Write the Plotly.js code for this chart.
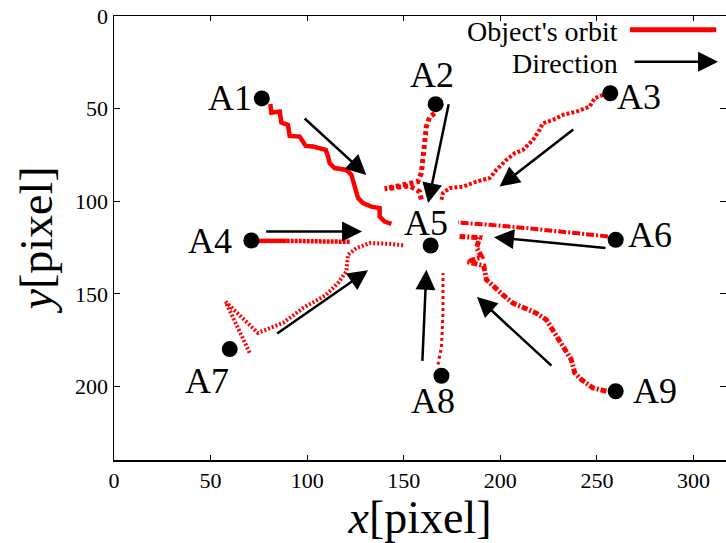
<!DOCTYPE html>
<html><head><meta charset="utf-8">
<script src="https://cdn.plot.ly/plotly-3.0.1.min.js"></script>
<style>body{margin:0;padding:0;background:#fff}#chart{width:726px;height:543px}</style>
</head><body><div id="chart"></div>
<script>
// Object start points
const pointNames = ['A1','A2','A3','A4','A5','A6','A7','A8','A9'];
const pointX = [76.5, 166.5, 256.9, 71.1, 163.9, 259.7, 59.9, 169.5, 259.7];
const pointY = [44.5, 47.6, 41.7, 121.2, 123.9, 120.8, 179.8, 194.2, 202.6];
// Label positions
const labelX = [59.9, 164.5, 272.0, 49.5, 161.7, 277.3, 48.0, 165.0, 279.9];
const labelY = [44.2, 31.8, 43.7, 121.7, 111.8, 118.1, 196.9, 208.0, 202.6];

// Orbits
const orbit1X = [80.95, 81.47, 85.77, 86.65, 90.06, 90.94, 96.12, 99.22, 103.0, 109.6, 110.8, 111.6, 114.2, 120.3, 122.9, 124.6, 126.3, 128.9, 133.2, 137.5, 137.5, 140.1, 143.6];
const orbit1Y = [47.46, 52.17, 51.62, 57.55, 58.79, 64.72, 65.1, 70.12, 70.5, 72.3, 75.9, 79.4, 82.1, 83.1, 85.8, 92.1, 98.2, 101.0, 102.9, 103.7, 108.3, 111.0, 112.2];
const orbit2X = [166.0, 163.4, 161.7, 160.8, 159.9, 159.1, 157.2, 147.9, 140.1, 153.1, 158.2, 159.3];
const orbit2Y = [52.5, 54.5, 59.7, 68.7, 79.4, 84.8, 89.5, 91.7, 93.3, 91.7, 94.9, 100.3];
const orbit3X = [253.1, 248.8, 246.2, 239.3, 232.4, 227.2, 222.0, 220.3, 216.9, 211.7, 207.4, 203.1, 197.9, 194.5, 187.6, 180.6, 173.8, 170.3, 169.5];
const orbit3Y = [42.6, 44.4, 48.9, 51.6, 53.4, 56.1, 57.9, 61.5, 66.9, 72.3, 74.1, 77.7, 83.1, 87.5, 89.4, 92.1, 92.9, 95.6, 99.2];
const orbit4aX = [73.5, 89.4];
const orbit4aY = [121.4, 121.4];
const orbit4bX = [89.4, 116.8, 122.0];
const orbit4bY = [121.4, 121.6, 121.9];
const orbit6X = [255.7, 225.5, 213.5, 194.5, 178.1];
const orbit6Y = [119.0, 115.4, 114.5, 112.7, 111.5];
const orbit7X = [70.2, 57.8, 74.5, 87.5, 97.8, 109.9, 115.9, 120.3, 121.1, 125.5, 132.3, 142.7, 150.5];
const orbit7Y = [181.8, 154.3, 171.1, 165.7, 157.7, 150.5, 144.2, 137.9, 128.9, 125.3, 122.6, 123.0, 123.9];
const orbit8X = [167.7, 169.5, 170.3, 170.3];
const orbit8Y = [188.2, 178.4, 160.4, 138.8];
const orbit9X = [254.9, 247.9, 241.9, 238.5, 236.7, 232.4, 229.0, 226.4, 223.8, 218.6, 211.7, 206.5, 201.3, 196.2, 192.8, 191.4, 183.1, 190.3, 187.7, 189.3, 178.9];
const orbit9Y = [202.6, 200.8, 196.3, 192.7, 185.5, 178.4, 173.0, 167.6, 164.0, 160.4, 157.7, 155.0, 150.5, 146.0, 142.4, 134.8, 132.7, 130.0, 125.1, 119.7, 119.0];

// Direction arrows (tail -> tip)
const arrowTailX = [97.9, 173.4, 238.5, 78.0, 255.2, 83.7, 159.6, 227.2];
const arrowTailY = [54.6, 46.8, 60.6, 116.3, 125.3, 172.0, 187.0, 189.5];
const arrowTipX = [130.6, 162.6, 199.6, 128.4, 196.7, 131.5, 161.7, 187.9];
const arrowTipY = [85.8, 101.0, 92.1, 116.3, 119.4, 137.3, 137.0, 151.7];

const legendLabels = ["Object's orbit", "Direction"];

const FONT = '"Liberation Serif", "Times New Roman", Times, serif';
const RED = '#ff0000';

function orbit(x, y, dash, width) {
  return {x: x, y: y, type: 'scatter', mode: 'lines', showlegend: false,
    line: {color: RED, width: width, dash: dash}, hoverinfo: 'skip'};
}

const traces = [
  orbit(orbit1X, orbit1Y, 'solid', 4.5),
  orbit(orbit2X, orbit2Y, '4px,3px', 5),
  orbit(orbit3X, orbit3Y, '3px,2px', 4),
  orbit(orbit4aX, orbit4aY, 'solid', 4.5),
  orbit(orbit4bX, orbit4bY, '3px,1px', 4.5),
  orbit(orbit6X, orbit6Y, '8px,2px,2px,2px', 4),
  orbit(orbit7X, orbit7Y, '2px,2px', 4),
  orbit(orbit8X, orbit8Y, '3px,3px', 3),
  orbit(orbit9X, orbit9Y, '6px,2px,2px,2px', 5),
  {x: pointX, y: pointY, type: 'scatter', mode: 'markers', showlegend: false,
   marker: {color: '#000', size: 16}, hoverinfo: 'skip'}
];

const annotations = [];
pointNames.forEach((n, i) => {
  annotations.push({x: labelX[i], y: labelY[i], xref: 'x', yref: 'y', text: n,
    showarrow: false, font: {family: FONT, size: 36, color: '#000'}});
});
arrowTipX.forEach((tx, i) => {
  annotations.push({x: tx, y: arrowTipY[i], ax: arrowTailX[i], ay: arrowTailY[i],
    xref: 'x', yref: 'y', axref: 'x', ayref: 'y', text: '', showarrow: true,
    arrowhead: 2, arrowsize: 1.6, arrowwidth: 2.5, arrowcolor: '#000'});
});
// legend
annotations.push({x: 0.827, y: 0.966, xref: 'paper', yref: 'paper', xanchor: 'right', yanchor: 'middle',
  text: legendLabels[0], showarrow: false, font: {family: FONT, size: 28, color: '#000'}});
annotations.push({x: 0.827, y: 0.894, xref: 'paper', yref: 'paper', xanchor: 'right', yanchor: 'middle',
  text: legendLabels[1], showarrow: false, font: {family: FONT, size: 28, color: '#000'}});
annotations.push({x: 0.987, y: 0.897, xref: 'paper', yref: 'paper', ax: -85, ay: 0,
  text: '', showarrow: true, arrowhead: 2, arrowsize: 1.6, arrowwidth: 2.5, arrowcolor: '#000'});

const layout = {
  width: 726, height: 543,
  margin: {l: 114, r: 0, t: 16, b: 83},
  paper_bgcolor: '#fff', plot_bgcolor: '#fff',
  font: {family: FONT, color: '#000'},
  xaxis: {range: [0, 316.8], tickvals: [0, 50, 100, 150, 200, 250, 300],
    ticks: 'inside', ticklen: 5, tickwidth: 1, tickcolor: '#000', mirror: 'ticks',
    showline: true, linecolor: '#000', linewidth: 1.5, showgrid: false, zeroline: false,
    tickfont: {family: FONT, size: 22, color: '#000'},
    title: {text: '<i>x</i>[pixel]', font: {family: FONT, size: 46, color: '#000'}, standoff: 4}},
  yaxis: {range: [239.7, 0], tickvals: [0, 50, 100, 150, 200],
    ticks: 'inside', ticklen: 6, tickwidth: 1, tickcolor: '#000', mirror: 'ticks',
    showline: true, linecolor: '#000', linewidth: 1.5, showgrid: false, zeroline: false,
    tickfont: {family: FONT, size: 22, color: '#000'},
    title: {text: '<i>y</i>[pixel]', font: {family: FONT, size: 46, color: '#000'}, standoff: 8}},
  shapes: [{type: 'line', xref: 'paper', yref: 'paper', x0: 0.843, x1: 0.984, y0: 0.969, y1: 0.969,
    line: {color: RED, width: 5}}],
  annotations: annotations
};

Plotly.newPlot('chart', traces, layout, {displayModeBar: false, staticPlot: true});
</script></body></html>
